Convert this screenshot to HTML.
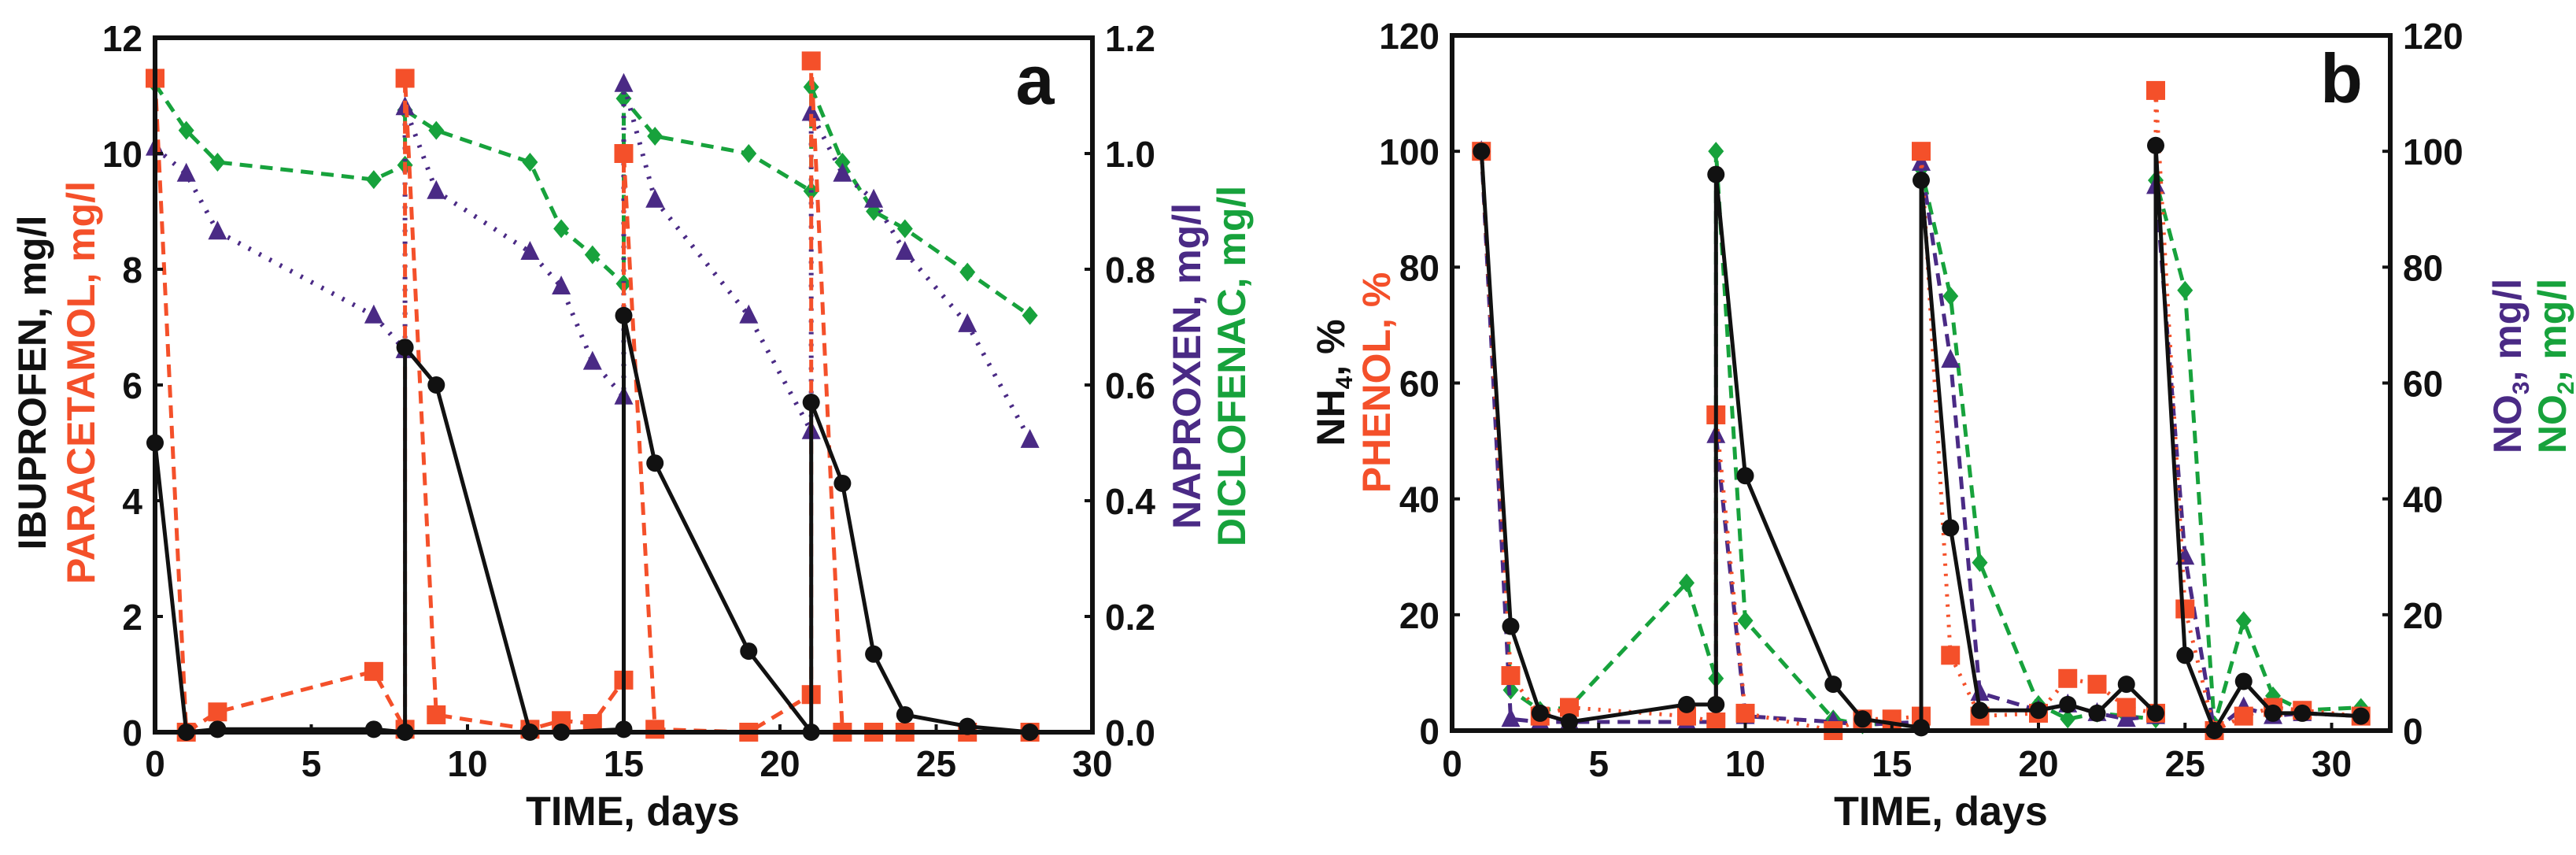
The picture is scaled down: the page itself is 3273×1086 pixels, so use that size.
<!DOCTYPE html>
<html><head><meta charset="utf-8"><style>
html,body{margin:0;padding:0;background:#fff;}
svg{display:block;font-family:"Liberation Sans",Arial,sans-serif;font-weight:bold;}
</style></head><body>
<svg id="chart" width="3273" height="1086" viewBox="0 0 3273 1086" xmlns="http://www.w3.org/2000/svg"></svg>
<script>
// ---- Panel a data ----
const aIbuX=[0,1,2,7,8,8,9,12,13,15,15,16,19,21,21,22,23,24,26,28];
const aIbuY=[5,0,0.05,0.05,0,6.65,6.0,0,0,0.05,7.2,4.65,1.4,0,5.7,4.3,1.35,0.3,0.1,0];
const aParX=[0,1,2,7,8,8,9,12,13,14,15,15,16,19,21,21,22,23,24,26,28];
const aParY=[11.3,0,0.35,1.05,0.05,11.3,0.3,0.05,0.2,0.15,0.9,10.0,0.05,0,0.65,11.6,0,0,0,0,0];
const aNapX=[0,1,2,7,8,8,9,12,13,14,15,15,16,19,21,21,22,23,24,26,28];
const aNapY=[1.01,0.965,0.865,0.72,0.66,1.08,0.935,0.83,0.77,0.64,0.58,1.12,0.92,0.72,0.52,1.07,0.965,0.92,0.83,0.705,0.505];
const aDicX=[0,1,2,7,8,8,9,12,13,14,15,15,16,19,21,21,22,23,24,26,28];
const aDicY=[1.12,1.04,0.985,0.955,0.98,1.075,1.04,0.985,0.87,0.825,0.775,1.095,1.03,1.0,0.935,1.115,0.985,0.9,0.87,0.795,0.72];
const aXTicks=[0,5,10,15,20,25,30];
const aYTicks=[0,2,4,6,8,10,12];
const aY2Ticks=["0.0","0.2","0.4","0.6","0.8","1.0","1.2"];
// ---- Panel b data ----
const bNhX=[1,2,3,4,8,9,9,10,13,14,16,16,17,18,20,21,22,23,24,24,25,26,27,28,29,31];
const bNhY=[100,18,3,1.5,4.5,4.5,96,44,8,2,0.5,95,35,3.5,3.5,4.5,3,8,3,101,13,0,8.5,3,3,2.5];
const bPhX=[1,2,3,4,8,9,9,10,13,14,15,16,16,17,18,20,21,22,23,24,24,25,26,27,28,29,31];
const bPhY=[100,9.5,2.5,4,2.5,1.5,54.5,3,0,2,2,2.5,100,13,2.5,3,9,8,4,3,110.5,21,0,2.5,4,3.5,2.5];
const bNo3X=[1,2,3,4,8,9,9,10,13,14,16,16,17,18,20,21,22,23,24,24,25,26,27,28,29,31];
const bNo3Y=[100,2,1.5,1.5,1.5,1.5,51,2.5,1.5,1,1.5,98,64,6.5,3.5,4.5,3,2,2.5,94,30,0,4,2.5,3,2.5];
const bNo2X=[1,2,3,4,8,9,9,10,13,14,16,16,17,18,20,21,22,23,24,24,25,26,27,28,29,31];
const bNo2Y=[100,7,3.5,4,25.5,9,100,19,2,1,1.5,97,75,29,4.5,2,3,2.5,2,95,76,1,19,6,3.5,4];
const bXTicks=[0,5,10,15,20,25,30];
const bYTicks=[0,20,40,60,80,100,120];

const NS="http://www.w3.org/2000/svg";
const svg=document.getElementById('chart');
const RED="#f4502a",PUR="#4a2a85",GRN="#17a23c",BLK="#111";
function mk(tag,attrs,parent){const e=document.createElementNS(NS,tag);for(const k in attrs)e.setAttribute(k,attrs[k]);(parent||svg).appendChild(e);return e;}
function scale(d0,d1,r0,r1){return v=>r0+(v-d0)/(d1-d0)*(r1-r0);}

function series(g,xs,ys,sx,sy,color,dash,width,marker,name){
  const sg=mk('g',{},g);
  
  
  let d='';xs.forEach((x,i)=>{d+=(i?'L':'M')+sx(x).toFixed(1)+','+sy(ys[i]).toFixed(1);});
  const p=mk('path',{d:d,fill:'none',stroke:color,'stroke-width':width,'stroke-dasharray':dash,'stroke-linejoin':'round'},sg);
  
  
  xs.forEach((x,i)=>{
    const cx=sx(x),cy=sy(ys[i]);let m;
    if(marker==='circle')m=mk('circle',{cx:cx,cy:cy,r:11,fill:color},sg);
    else if(marker==='square')m=mk('rect',{x:cx-12,y:cy-12,width:24,height:24,fill:color},sg);
    else if(marker==='tri')m=mk('polygon',{points:`${cx},${cy-14} ${cx+12},${cy+10} ${cx-12},${cy+10}`,fill:color},sg);
    else m=mk('polygon',{points:`${cx},${cy-12} ${cx+10},${cy} ${cx},${cy+12} ${cx-10},${cy}`,fill:color},sg);
    
    
  });
}

function frame(g,L,R,T,B,xt,yl,yr,sx,sy,sy2,yrvals,panel){
  const rc=mk('rect',{x:L,y:T,width:R-L,height:B-T,fill:'none',stroke:BLK,'stroke-width':6},g);
  
  
  xt.forEach(v=>{
    const t=mk('text',{x:sx(v),y:986,'font-size':46,'text-anchor':'middle',fill:BLK},g);t.textContent=v;
    
    
    mk('line',{x1:sx(v),x2:sx(v),y1:B,y2:B-10,stroke:BLK,'stroke-width':4},g);
  });
  yl.forEach(v=>{
    const t=mk('text',{x:L-16,y:sy(v)+17,'font-size':46,'text-anchor':'end',fill:BLK},g);t.textContent=v;
    
    
    mk('line',{x1:L,x2:L+10,y1:sy(v),y2:sy(v),stroke:BLK,'stroke-width':4},g);
  });
  yr.forEach((lab,i)=>{
    const v=yrvals[i];
    const t=mk('text',{x:R+16,y:sy2(v)+17,'font-size':46,'text-anchor':'start',fill:BLK},g);t.textContent=lab;
    
    
    mk('line',{x1:R,x2:R-10,y1:sy2(v),y2:sy2(v),stroke:BLK,'stroke-width':4},g);
  });
}
function label(g,txt,x,y,color,size,rot,name,sub){
  const t=mk('text',{x:x,y:y,'font-size':size,fill:color,'text-anchor':'middle',transform:rot?`rotate(-90 ${x} ${y})`:''},g);
  
  
  if(sub){
    const a=document.createElementNS(NS,'tspan');a.textContent=sub[0];t.appendChild(a);
    const b=document.createElementNS(NS,'tspan');b.setAttribute('font-size',size*0.6);b.setAttribute('dy',10);b.textContent=sub[1];t.appendChild(b);
    const c=document.createElementNS(NS,'tspan');c.setAttribute('dy',-10);c.textContent=sub[2];t.appendChild(c);
  } else t.textContent=txt;
}

// ---- Panel a ----
(function(){
  const g=mk('g',{});
  const L=197,R=1388,T=48,B=930;
  const sx=scale(0,30,L,R),sy=scale(0,12,B,T),sy2=scale(0,1.2,B,T);
  series(g,aDicX,aDicY,sx,sy2,GRN,'16 10',5,'diamond','diclofenac-series');
  series(g,aNapX,aNapY,sx,sy2,PUR,'3 12',6,'tri','naproxen-series');
  series(g,aParX,aParY,sx,sy,RED,'16 10',5,'square','paracetamol-series');
  series(g,aIbuX,aIbuY,sx,sy,BLK,'',5,'circle','ibuprofen-series');
  frame(g,L,R,T,B,aXTicks,aYTicks,aY2Ticks,sx,sy,sy2,aY2Ticks.map(Number),'panel-a');
  label(g,'TIME, days',804,1048,BLK,52,false,'panel-a-x-axis-title');
  label(g,'IBUPROFEN, mg/l',58,486,BLK,50,true,'panel-a-y-axis-title-ibuprofen');
  label(g,'PARACETAMOL, mg/l',120,486,RED,50,true,'panel-a-y-axis-title-paracetamol');
  label(g,'NAPROXEN, mg/l',1525,465,PUR,50,true,'panel-a-y2-axis-title-naproxen');
  label(g,'DICLOFENAC, mg/l',1582,465,GRN,50,true,'panel-a-y2-axis-title-diclofenac');
  label(g,'a',1315,132,BLK,88,false,'panel-a-letter');
})();
// ---- Panel b ----
(function(){
  const g=mk('g',{});
  const L=1845,R=3037,T=45,B=928;
  const sx=scale(0,32,L,R),sy=scale(0,120,B,T);
  series(g,bNo2X,bNo2Y,sx,sy,GRN,'16 10',5,'diamond','no2-series');
  series(g,bNo3X,bNo3Y,sx,sy,PUR,'16 10',5,'tri','no3-series');
  series(g,bPhX,bPhY,sx,sy,RED,'3 10',5,'square','phenol-series');
  series(g,bNhX,bNhY,sx,sy,BLK,'',5,'circle','nh4-series');
  frame(g,L,R,T,B,bXTicks,bYTicks,bYTicks,sx,sy,sy,bYTicks,'panel-b');
  label(g,'TIME, days',2466,1048,BLK,52,false,'panel-b-x-axis-title');
  label(g,'',1708,486,BLK,50,true,'panel-b-y-axis-title-nh4',['NH','4',', %']);
  label(g,'PHENOL, %',1766,486,RED,50,true,'panel-b-y-axis-title-phenol');
  label(g,'',3203,465,PUR,50,true,'panel-b-y2-axis-title-no3',['NO','3',', mg/l']);
  label(g,'',3260,465,GRN,50,true,'panel-b-y2-axis-title-no2',['NO','2',', mg/l']);
  label(g,'b',2975,130,BLK,88,false,'panel-b-letter');
})();
</script>
</body></html>
